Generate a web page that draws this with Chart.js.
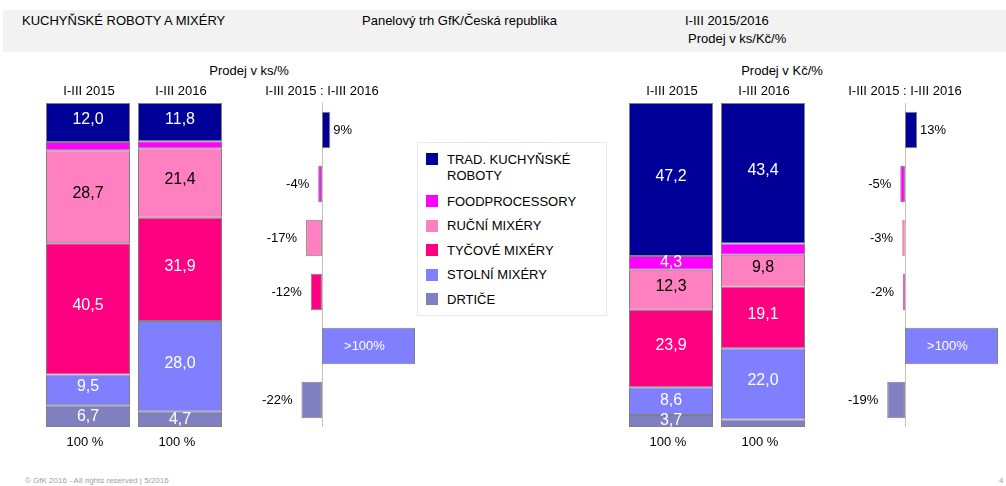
<!DOCTYPE html>
<html>
<head>
<meta charset="utf-8">
<script src="https://cdn.jsdelivr.net/npm/chart.js@4"></script>
<style>
  body { margin: 0; background: #fff; font-family: Arial, "Liberation Sans", sans-serif; color: #000; }
  #page { position: relative; width: 1006px; height: 486px; overflow: hidden; }
  .txt { position: absolute; font-size: 13px; white-space: nowrap; line-height: 16px; }
  #header { position: absolute; left: 3px; top: 10px; width: 1003px; height: 42px; background: #f2f2f2; }
  canvas { position: absolute; }
  #legend { position: absolute; left: 417px; top: 142px; width: 188px; height: 172px; border: 1.5px solid #e8e8e8; }
  .sw { position: absolute; width: 12px; height: 12px; }
  .lt { position: absolute; font-size: 13px; line-height: 16px; width: 150px; }
</style>
</head>
<body>
<div id="page">
  <div id="header"></div>
  <div class="txt" style="left:22px; top:13px;">KUCHYŇSKÉ ROBOTY A MIXÉRY</div>
  <div class="txt" style="left:362px; top:13px;">Panelový trh GfK/Česká republika</div>
  <div class="txt" style="left:685px; top:13px;">I-III 2015/2016</div>
  <div class="txt" style="left:688px; top:31px;">Prodej v ks/Kč/%</div>

  <div class="txt" style="left:249px; top:63px; transform:translateX(-50%);">Prodej v ks/%</div>
  <div class="txt" style="left:782px; top:63px; transform:translateX(-50%);">Prodej v Kč/%</div>

  <div id="legend"></div>

  <canvas id="ksStack" width="200" height="400" style="left:36px; top:60px;"></canvas>
  <canvas id="ksChange" width="170" height="400" style="left:250px; top:60px;"></canvas>
  <canvas id="kcStack" width="200" height="400" style="left:619px; top:60px;"></canvas>
  <canvas id="kcChange" width="176" height="400" style="left:830px; top:60px;"></canvas>

  <div class="txt" style="left:25px; top:476px; font-size:8px; color:#a0a0a0; line-height:10px;">© GfK 2016 - All rights reserved | 5/2016</div>
  <div class="txt" style="left:999px; top:476px; font-size:8px; color:#a0a0a0; line-height:10px;">4</div>
</div>

<script>
// ==================== DATA ====================
const categories = ["TRAD. KUCHYŇSKÉ ROBOTY", "FOODPROCESSORY", "RUČNÍ MIXÉRY", "TYČOVÉ MIXÉRY", "STOLNÍ MIXÉRY", "DRTIČE"];
const periods = ["I-III 2015", "I-III 2016"];
const totals = ["100 %", "100 %"];
const changeTitle = "I-III 2015 : I-III 2016";

// podíly v ks (%)
const ks2015 = [12.0, 2.6, 28.7, 40.5, 9.5, 6.7];
const ks2016 = [11.8, 2.2, 21.4, 31.9, 28.0, 4.7];
// podíly v Kč (%)
const kc2015 = [47.2, 4.3, 12.3, 23.9, 8.6, 3.7];
const kc2016 = [43.4, 3.4, 9.8, 19.1, 22.0, 2.3];

// meziroční změna (%)
const ksChange = [9, -4, -17, -12, 100, -22];
const ksChangeLabels = ["9%", "-4%", "-17%", "-12%", ">100%", "-22%"];
const kcChange = [13, -5, -3, -2, 100, -19];
const kcChangeLabels = ["13%", "-5%", "-3%", "-2%", ">100%", "-19%"];

const colors = ["#000099", "#ff00ff", "#ff80c0", "#ff0080", "#8080ff", "#8080c0"];
const textColors = ["#fff", "#fff", "#000", "#fff", "#fff", "#fff"];
const borderGrey = "#808080";
const FONT = 'Arial, "Liberation Sans", sans-serif';

// ==================== LEGEND ====================
function buildLegend() {
  const box = document.getElementById("legend");
  const rowTops = [10, 52, 76.5, 101, 125.5, 150];
  categories.forEach((name, i) => {
    const sw = document.createElement("div");
    sw.className = "sw";
    sw.style.left = "8px";
    sw.style.top = rowTops[i] + "px";
    sw.style.background = colors[i];
    box.appendChild(sw);
    const lt = document.createElement("div");
    lt.className = "lt";
    lt.style.left = "29px";
    lt.style.top = (rowTops[i] - 1.5) + "px";
    lt.textContent = name;
    box.appendChild(lt);
  });
}

// ==================== PLUGINS ====================
const stackLabels = {
  id: "stackLabels",
  afterDatasetsDraw(chart) {
    const ctx = chart.ctx;
    const area = chart.chartArea;
    ctx.save();
    ctx.font = "16px " + FONT;
    ctx.textAlign = "center";
    ctx.textBaseline = "middle";
    chart.data.datasets.forEach((ds, di) => {
      const meta = chart.getDatasetMeta(di);
      meta.data.forEach((el, i) => {
        const v = ds.data[i];
        if (v < 3.5) return;
        const h = Math.abs(el.base - el.y);
        const off = h > 28 ? -3 : 0;
        ctx.fillStyle = textColors[di];
        ctx.fillText(v.toFixed(1).replace(".", ","), el.x, (el.y + el.base) / 2 + off);
      });
    });
    // popisky období a součty
    ctx.font = "13px " + FONT;
    ctx.fillStyle = "#000";
    ctx.textBaseline = "alphabetic";
    const xs = chart.scales.x;
    periods.forEach((p, i) => {
      const x = xs.getPixelForValue(i);
      ctx.fillText(p, x + 1, area.top - 8);
      ctx.fillText(totals[i], x - 3, area.bottom + 19);
    });
    ctx.restore();
  }
};

const changeLabels = {
  id: "changeLabels",
  beforeDatasetsDraw(chart) {
    const ctx = chart.ctx;
    const area = chart.chartArea;
    const x0 = Math.round(chart.scales.x.getPixelForValue(0)) + 0.5;
    ctx.save();
    ctx.strokeStyle = "#c8c0b8";
    ctx.lineWidth = 1;
    ctx.beginPath();
    ctx.moveTo(x0, area.top);
    ctx.lineTo(x0, area.bottom);
    ctx.stroke();
    ctx.restore();
  },
  afterDatasetsDraw(chart) {
    const ctx = chart.ctx;
    const area = chart.chartArea;
    const labels = chart.options.plugins.changeLabels.labels;
    const meta = chart.getDatasetMeta(0);
    ctx.save();
    ctx.font = "13px " + FONT;
    ctx.textBaseline = "middle";
    meta.data.forEach((el, i) => {
      const v = chart.data.datasets[0].data[i];
      const lab = labels[i];
      if (lab.startsWith(">")) {
        ctx.fillStyle = "#fff";
        ctx.textAlign = "center";
        ctx.fillText(lab, (el.x + el.base) / 2 - 4, el.y);
      } else if (v >= 0) {
        ctx.fillStyle = "#000";
        ctx.textAlign = "left";
        ctx.fillText(lab, el.x + 3, el.y);
      } else {
        ctx.fillStyle = "#000";
        ctx.textAlign = "right";
        ctx.fillText(lab, el.x - 9, el.y);
      }
    });
    ctx.textAlign = "center";
    ctx.textBaseline = "alphabetic";
    ctx.fillStyle = "#000";
    ctx.fillText(changeTitle, chart.scales.x.getPixelForValue(0), area.top - 8);
    ctx.restore();
  }
};

// ==================== CHARTS ====================
function makeStack(id, d2015, d2016) {
  const datasets = categories.map((name, i) => ({
    label: name,
    data: [d2015[i], d2016[i]],
    backgroundColor: colors[i],
    borderColor: borderGrey,
    borderWidth: 1,
    borderSkipped: false,
    barPercentage: 0.913,
    categoryPercentage: 1
  }));
  return new Chart(document.getElementById(id), {
    type: "bar",
    data: { labels: periods, datasets },
    options: {
      responsive: false,
      animation: false,
      layout: { padding: { left: 6, right: 10, top: 43, bottom: 33 } },
      plugins: { legend: { display: false }, tooltip: { enabled: false } },
      scales: {
        x: { display: false, stacked: true },
        y: { display: false, stacked: true, min: 0, max: 100, reverse: true }
      }
    },
    plugins: [stackLabels]
  });
}

function makeChange(id, values, labels, padLeft, padRight) {
  return new Chart(document.getElementById(id), {
    type: "bar",
    data: {
      labels: categories,
      datasets: [{
        data: values,
        backgroundColor: colors,
        borderColor: borderGrey,
        // tenké sloupce jen s jemným okrajem, aby byla vidět barva
        borderWidth: c => Math.abs(c.raw) < 4 ? 0.4 : 1,
        borderSkipped: false,
        barPercentage: 0.68,
        categoryPercentage: 1
      }]
    },
    options: {
      indexAxis: "y",
      responsive: false,
      animation: false,
      layout: { padding: { left: padLeft, right: padRight, top: 43, bottom: 33 } },
      plugins: { legend: { display: false }, tooltip: { enabled: false }, changeLabels: { labels } },
      scales: {
        x: { display: false, min: -30, max: 100 },
        y: { display: false }
      }
    },
    plugins: [changeLabels]
  });
}

buildLegend();
makeStack("ksStack", ks2015, ks2016);
makeChange("ksChange", ksChange, ksChangeLabels, 44, 5);
makeStack("kcStack", kc2015, kc2016);
makeChange("kcChange", kcChange, kcChangeLabels, 47, 8);
</script>
</body>
</html>
